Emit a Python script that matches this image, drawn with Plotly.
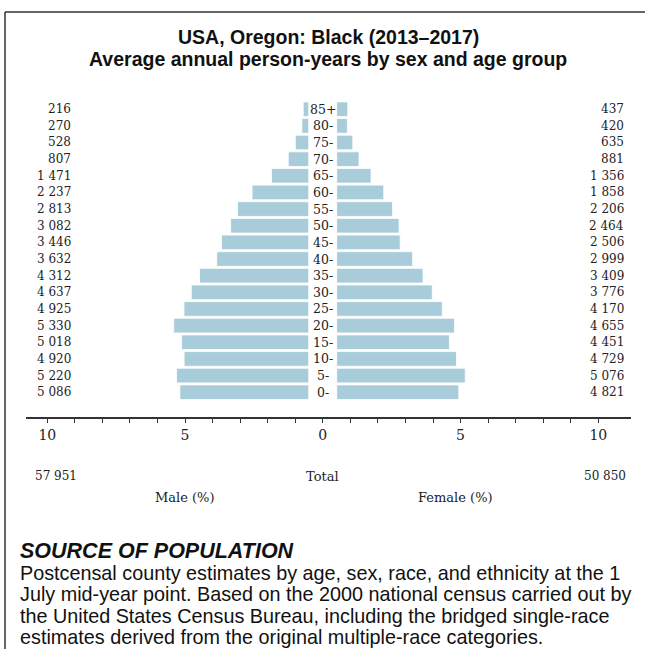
import plotly.graph_objects as go

# age groups, bottom (youngest) to top (oldest)
ages = ["0-", "5-", "10-", "15-", "20-", "25-", "30-", "35-", "40-",
        "45-", "50-", "55-", "60-", "65-", "70-", "75-", "80-", "85+"]
male = [5086, 5220, 4920, 5018, 5330, 4925, 4637, 4312, 3632,
        3446, 3082, 2813, 2237, 1471, 807, 528, 270, 216]
female = [4821, 5076, 4729, 4451, 4655, 4170, 3776, 3409, 2999,
          2506, 2464, 2206, 1858, 1356, 881, 635, 420, 437]
male_total = 57951
female_total = 50850
tick_vals = list(range(-10, 11))
tick_labels = {-10: "10", -5: "5", 0: "0", 5: "5", 10: "10"}

title_lines = ["USA, Oregon: Black (2013–2017)",
               "Average annual person-years by sex and age group"]
source_head = "SOURCE OF POPULATION"
source_lines = [
    "Postcensal county estimates by age, sex, race, and ethnicity at the 1",
    "July mid-year point. Based on the 2000 national census carried out by",
    "the United States Census Bureau, including the bridged single-race",
    "estimates derived from the original multiple-race categories.",
]

W, H = 645, 649
grand = male_total + female_total
male_pct = [v / grand * 100 for v in male]
female_pct = [v / grand * 100 for v in female]


def fmt(v):
    return f"{v:,}".replace(",", " ")


def px(x):
    return x / W


def py(y):
    return 1 - y / H


BAR = "#a8ccd9"
SERIF = "DejaVu Serif"
SANS = "Liberation Sans"
INK = "#222222"
unit = 27.55  # pixels per percent

fig = go.Figure()
fig.add_trace(go.Bar(y=ages, x=male_pct, orientation="h", xaxis="x", yaxis="y",
                     marker=dict(color=BAR, line=dict(color="white", width=0.8)),
                     hoverinfo="skip"))
fig.add_trace(go.Bar(y=ages, x=female_pct, orientation="h", xaxis="x2", yaxis="y",
                     marker=dict(color=BAR, line=dict(color="white", width=0.8)),
                     hoverinfo="skip"))
# carrier for the shared percent scale
fig.add_trace(go.Scatter(x=[0], y=[0], xaxis="x3", yaxis="y3", mode="markers",
                         marker=dict(opacity=0), hoverinfo="skip"))

left0, right0 = 308.7, 336.7
ax_l, ax_r = 26, 630.7
ann = []


def note(x, y, text, size, family=SERIF, anchor="center", yref="paper", color=INK):
    ann.append(dict(x=px(x), y=y if yref != "paper" else py(y), xref="paper", yref=yref,
                    text=text, xanchor=anchor, yanchor="middle", showarrow=False,
                    font=dict(family=family, size=size, color=color)))


for a, m, f in zip(ages, male, female):
    note(73, a, fmt(m), 12, anchor="right", yref="y")
    note(626, a, fmt(f), 12, anchor="right", yref="y")
    note(322.5, a, a, 12.5, yref="y")

note(33, 476, fmt(male_total), 12, anchor="left")
note(628, 476, fmt(female_total), 12, anchor="right")
note(322, 476, "Total", 13)
note(185, 497, "Male (%)", 13)
note(455, 497, "Female (%)", 13)

for i, t in enumerate(title_lines):
    note(328, 37 + 22 * i, f"<b>{t}</b>", 19.5, family=SANS, color="#111")

note(18, 551, f"<b><i>{source_head}</i></b>", 21.5, family=SANS, anchor="left", color="#111")
for i, t in enumerate(source_lines):
    note(18, 573 + 21.3 * i, t, 19.8, family=SANS, anchor="left", color="#111")

fig.update_layout(
    width=W, height=H,
    margin=dict(l=0, r=0, t=0, b=0),
    paper_bgcolor="white", plot_bgcolor="rgba(0,0,0,0)",
    showlegend=False, bargap=0.12,
    xaxis=dict(domain=[px(ax_l), px(left0)], range=[(left0 - ax_l) / unit, 0],
               visible=False, fixedrange=True),
    xaxis2=dict(domain=[px(right0), px(ax_r)], range=[0, (ax_r - right0) / unit],
                visible=False, anchor="y", fixedrange=True),
    yaxis=dict(domain=[py(401.7), py(99.7)], type="category",
               categoryorder="array", categoryarray=ages, visible=False, fixedrange=True),
    xaxis3=dict(domain=[px(ax_l), px(ax_r)],
                range=[-10 - (47.3 - ax_l) / unit, 10 + (ax_r - 598.3) / unit],
                anchor="free", position=py(417.5), side="bottom",
                showline=True, linecolor="#333", linewidth=1.5,
                showgrid=False, zeroline=False,
                tickmode="array", tickvals=tick_vals,
                ticktext=[tick_labels.get(v, "") for v in tick_vals],
                ticks="outside", ticklen=5, tickwidth=1, tickcolor="#333",
                tickfont=dict(family=SERIF, size=14, color=INK), fixedrange=True),
    yaxis3=dict(domain=[0, 0.01], visible=False, anchor="x3", range=[1, 2]),
    annotations=ann,
    shapes=[
        dict(type="line", xref="paper", yref="paper", x0=px(5), x1=1, y0=py(12), y1=py(12),
             line=dict(color="#333", width=1.5)),
        dict(type="line", xref="paper", yref="paper", x0=px(5), x1=px(5), y0=py(12), y1=0,
             line=dict(color="#333", width=1.5)),
    ],
)

fig.write_html("out.html", config={"displayModeBar": False},
               post_script="document.body.style.margin='0';")
